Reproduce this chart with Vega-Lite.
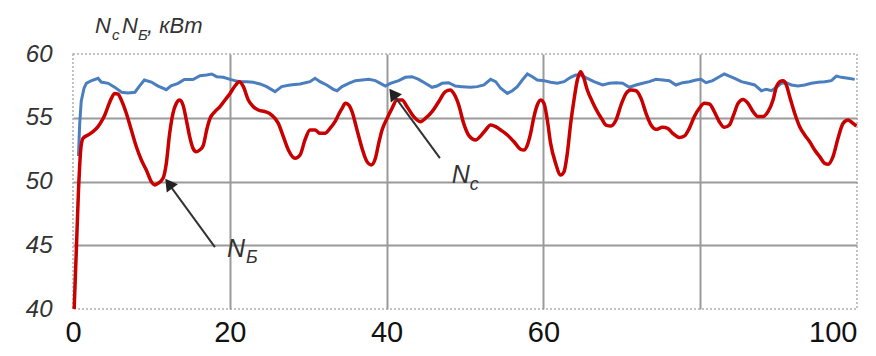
{
  "$schema": "https://vega.github.io/schema/vega-lite/v6.json",
  "autosize": {"type": "none"},
  "width": 784,
  "height": 255,
  "padding": {"left": 73, "top": 54, "right": 19, "bottom": 47},
  "background": "white",
  "config": {"view": {"stroke": "#b0b0b0", "strokeDash": [2, 2], "strokeWidth": 1.5}},
  "datasets": {
    "nc": [
      {"x":0.7,"y":52.0},{"x":0.85,"y":54.5},{"x":1.05,"y":56.3},{"x":1.4,"y":57.3},{"x":1.7,"y":57.7},{"x":2.3,"y":57.9},{"x":3.2,"y":58.1},{"x":3.6,"y":57.8},{"x":4.5,"y":57.7},{"x":5.3,"y":57.4},{"x":6.2,"y":57.0},{"x":7.0,"y":56.95},{"x":7.9,"y":57.0},{"x":8.5,"y":57.5},{"x":9.1,"y":57.96},{"x":10.0,"y":57.8},{"x":10.8,"y":57.5},{"x":11.9,"y":57.2},{"x":12.5,"y":57.5},{"x":13.4,"y":57.7},{"x":14.2,"y":58.0},{"x":15.3,"y":58.0},{"x":16.2,"y":58.3},{"x":17.05,"y":58.35},{"x":17.69,"y":58.43},{"x":18.33,"y":58.22},{"x":19.18,"y":58.17},{"x":20.03,"y":58.01},{"x":20.66,"y":57.91},{"x":21.3,"y":57.83},{"x":22.15,"y":57.83},{"x":23.0,"y":57.78},{"x":23.85,"y":57.65},{"x":24.7,"y":57.44},{"x":25.77,"y":57.05},{"x":26.62,"y":57.44},{"x":27.68,"y":57.57},{"x":28.96,"y":57.65},{"x":30.23,"y":57.83},{"x":30.87,"y":58.09},{"x":31.51,"y":57.83},{"x":32.36,"y":57.57},{"x":33.21,"y":57.23},{"x":33.68,"y":57.12},{"x":34.32,"y":57.44},{"x":35.17,"y":57.7},{"x":36.02,"y":57.91},{"x":36.87,"y":57.96},{"x":37.72,"y":58.01},{"x":38.57,"y":57.91},{"x":39.21,"y":57.7},{"x":39.84,"y":57.49},{"x":40.48,"y":57.7},{"x":41.54,"y":57.91},{"x":42.39,"y":58.17},{"x":43.24,"y":58.22},{"x":44.09,"y":58.01},{"x":44.94,"y":57.7},{"x":45.8,"y":57.39},{"x":46.43,"y":57.49},{"x":47.07,"y":57.7},{"x":47.92,"y":57.75},{"x":48.77,"y":57.49},{"x":49.62,"y":57.44},{"x":50.72,"y":57.39},{"x":51.57,"y":57.44},{"x":52.42,"y":57.57},{"x":53.27,"y":58.01},{"x":53.91,"y":57.83},{"x":54.55,"y":57.31},{"x":55.4,"y":56.91},{"x":56.04,"y":57.12},{"x":56.67,"y":57.44},{"x":57.31,"y":57.96},{"x":57.95,"y":58.43},{"x":58.59,"y":58.22},{"x":59.22,"y":57.96},{"x":60.07,"y":57.91},{"x":60.92,"y":57.78},{"x":61.77,"y":57.7},{"x":62.63,"y":57.83},{"x":63.48,"y":58.17},{"x":64.11,"y":58.35},{"x":64.75,"y":58.35},{"x":65.6,"y":58.09},{"x":66.45,"y":57.83},{"x":67.56,"y":57.57},{"x":68.41,"y":57.7},{"x":69.26,"y":57.75},{"x":70.11,"y":57.7},{"x":70.96,"y":57.39},{"x":71.81,"y":57.57},{"x":72.66,"y":57.7},{"x":73.51,"y":57.83},{"x":74.36,"y":58.01},{"x":75.21,"y":57.96},{"x":76.06,"y":57.91},{"x":76.91,"y":57.57},{"x":77.76,"y":57.75},{"x":78.61,"y":57.83},{"x":79.46,"y":57.96},{"x":80.1,"y":58.01},{"x":80.74,"y":57.75},{"x":81.59,"y":57.91},{"x":82.44,"y":58.22},{"x":83.08,"y":58.43},{"x":83.72,"y":58.27},{"x":84.4,"y":58.09},{"x":85.25,"y":57.83},{"x":86.1,"y":57.7},{"x":86.95,"y":57.57},{"x":87.8,"y":57.12},{"x":88.44,"y":57.23},{"x":89.08,"y":57.12},{"x":89.72,"y":57.39},{"x":90.35,"y":57.7},{"x":90.99,"y":57.75},{"x":91.63,"y":57.57},{"x":92.48,"y":57.49},{"x":93.33,"y":57.57},{"x":94.18,"y":57.7},{"x":95.03,"y":57.78},{"x":95.88,"y":57.83},{"x":96.73,"y":57.91},{"x":97.37,"y":58.27},{"x":98.01,"y":58.17},{"x":98.86,"y":58.09},{"x":99.71,"y":58.01}
    ],
    "nb": [
      {"x":0.15,"y":40},{"x":0.7,"y":49.3},{"x":1.0,"y":52.6},{"x":1.28,"y":53.39},{"x":1.91,"y":53.65},{"x":2.55,"y":53.91},{"x":3.19,"y":54.3},{"x":3.61,"y":54.69},{"x":4.04,"y":55.2},{"x":4.46,"y":55.87},{"x":4.89,"y":56.52},{"x":5.31,"y":56.91},{"x":5.74,"y":56.86},{"x":6.16,"y":56.39},{"x":6.8,"y":55.35},{"x":7.44,"y":54.04},{"x":8.08,"y":52.73},{"x":8.72,"y":51.69},{"x":9.35,"y":50.9},{"x":9.99,"y":49.99},{"x":10.42,"y":49.73},{"x":10.84,"y":49.86},{"x":11.48,"y":50.25},{"x":11.9,"y":51.42},{"x":12.33,"y":53.78},{"x":12.75,"y":55.35},{"x":13.18,"y":56.13},{"x":13.61,"y":56.39},{"x":14.03,"y":56.0},{"x":14.46,"y":54.82},{"x":14.88,"y":53.52},{"x":15.31,"y":52.6},{"x":15.73,"y":52.34},{"x":16.16,"y":52.47},{"x":16.63,"y":52.86},{"x":17.05,"y":54.04},{"x":17.48,"y":54.95},{"x":18.11,"y":55.48},{"x":18.75,"y":55.87},{"x":19.39,"y":56.39},{"x":20.03,"y":56.91},{"x":20.66,"y":57.49},{"x":21.22,"y":57.83},{"x":21.73,"y":57.44},{"x":22.36,"y":56.39},{"x":23.0,"y":55.87},{"x":23.64,"y":55.61},{"x":24.49,"y":55.48},{"x":25.34,"y":55.21},{"x":26.19,"y":54.56},{"x":26.83,"y":53.52},{"x":27.47,"y":52.47},{"x":28.32,"y":51.82},{"x":28.96,"y":52.08},{"x":29.59,"y":53.26},{"x":30.23,"y":54.04},{"x":30.87,"y":54.04},{"x":31.51,"y":53.78},{"x":32.14,"y":53.78},{"x":32.78,"y":54.17},{"x":33.42,"y":54.7},{"x":34.0,"y":55.4},{"x":34.32,"y":55.74},{"x":34.74,"y":56.13},{"x":35.17,"y":56.0},{"x":35.59,"y":55.48},{"x":36.23,"y":54.04},{"x":36.87,"y":52.6},{"x":37.5,"y":51.56},{"x":38.06,"y":51.3},{"x":38.57,"y":51.82},{"x":38.99,"y":52.99},{"x":39.42,"y":54.04},{"x":40.06,"y":54.95},{"x":40.69,"y":55.74},{"x":41.33,"y":56.39},{"x":41.97,"y":56.39},{"x":42.61,"y":55.87},{"x":43.46,"y":55.09},{"x":44.31,"y":54.69},{"x":44.94,"y":54.95},{"x":45.8,"y":55.48},{"x":46.65,"y":56.26},{"x":47.5,"y":57.05},{"x":48.13,"y":57.18},{"x":48.56,"y":56.91},{"x":49.2,"y":56.0},{"x":49.83,"y":54.56},{"x":50.5,"y":53.6},{"x":51.36,"y":53.26},{"x":51.99,"y":53.57},{"x":52.63,"y":54.04},{"x":53.27,"y":54.43},{"x":53.91,"y":54.3},{"x":54.55,"y":54.04},{"x":55.4,"y":53.65},{"x":56.25,"y":53.12},{"x":57.1,"y":52.52},{"x":57.52,"y":52.47},{"x":57.95,"y":52.86},{"x":58.37,"y":53.78},{"x":58.8,"y":55.09},{"x":59.22,"y":56.0},{"x":59.65,"y":56.39},{"x":60.07,"y":56.13},{"x":60.5,"y":54.82},{"x":60.92,"y":52.99},{"x":61.56,"y":51.42},{"x":62.2,"y":50.51},{"x":62.63,"y":50.77},{"x":63.05,"y":52.21},{"x":63.48,"y":54.56},{"x":63.9,"y":56.39},{"x":64.33,"y":57.96},{"x":64.75,"y":58.61},{"x":65.09,"y":58.22},{"x":65.6,"y":57.18},{"x":66.24,"y":56.26},{"x":66.88,"y":55.48},{"x":67.45,"y":54.9},{"x":67.99,"y":54.43},{"x":68.62,"y":54.35},{"x":69.26,"y":54.82},{"x":69.9,"y":56.0},{"x":70.54,"y":56.91},{"x":71.17,"y":57.18},{"x":71.81,"y":57.12},{"x":72.45,"y":56.52},{"x":73.09,"y":55.35},{"x":73.73,"y":54.43},{"x":74.36,"y":54.09},{"x":75.21,"y":54.25},{"x":75.85,"y":54.17},{"x":76.49,"y":53.78},{"x":77.34,"y":53.46},{"x":77.98,"y":53.57},{"x":78.61,"y":54.17},{"x":79.25,"y":55.09},{"x":79.89,"y":55.74},{"x":80.53,"y":56.13},{"x":81.17,"y":56.08},{"x":81.8,"y":55.48},{"x":82.44,"y":54.69},{"x":83.08,"y":54.25},{"x":83.72,"y":54.43},{"x":84.25,"y":55.2},{"x":84.83,"y":56.13},{"x":85.46,"y":56.44},{"x":86.1,"y":56.13},{"x":86.74,"y":55.48},{"x":87.38,"y":55.09},{"x":88.01,"y":55.09},{"x":88.65,"y":55.48},{"x":89.29,"y":56.39},{"x":89.72,"y":57.44},{"x":90.14,"y":57.83},{"x":90.57,"y":57.91},{"x":90.99,"y":57.57},{"x":91.42,"y":56.65},{"x":92.05,"y":55.35},{"x":92.69,"y":54.3},{"x":93.33,"y":53.65},{"x":93.97,"y":53.12},{"x":94.6,"y":52.47},{"x":95.24,"y":51.95},{"x":95.88,"y":51.42},{"x":96.31,"y":51.35},{"x":96.94,"y":51.95},{"x":97.58,"y":53.39},{"x":98.22,"y":54.56},{"x":98.86,"y":54.82},{"x":99.49,"y":54.56},{"x":99.92,"y":54.35}
    ],
    "arrows": [
      {"x": 46.8, "y": 51.84, "x2": 41.0, "y2": 56.7},
      {"x": 18.1, "y": 44.86, "x2": 12.4, "y2": 49.65}
    ],
    "heads": [
      {"x": 40.8, "y": 56.9},
      {"x": 12.22, "y": 49.84}
    ],
    "big": [
      {"x": 48.3, "y": 49.88, "t": "N"},
      {"x": 19.64, "y": 44.08, "t": "N"}
    ],
    "small": [
      {"x": 50.6, "y": 49.33, "t": "с"},
      {"x": 22.07, "y": 43.6, "t": "Б"}
    ],
    "ttl": [
      {"x": 2.8, "y": 61.65, "t": "N"},
      {"x": 6.25, "y": 61.65, "t": "N"},
      {"x": 9.44, "y": 61.65, "t": ", кВт"}
    ],
    "tsub": [
      {"x": 4.97, "y": 61.1, "t": "с"},
      {"x": 8.29, "y": 61.1, "t": "Б"}
    ]
  },
  "encoding": {
    "x": {
      "field": "x", "type": "quantitative",
      "scale": {"domain": [0, 100], "nice": false, "zero": false},
      "axis": {
        "title": null, "values": [0, 20, 40, 60, 80, 100],
        "domain": false, "ticks": false,
        "grid": true, "gridWidth": 2,
        "gridColor": {"condition": {"test": "datum.value == 0 || datum.value == 100", "value": "transparent"}, "value": "#9a9a9a"},
        "labelExpr": "datum.value == 80 ? '' : datum.label",
        "labelAlign": {"condition": {"test": "datum.value == 100", "value": "right"}, "value": "center"},
        "labelFont": "Liberation Sans",
        "labelFontSize": 29, "labelColor": "#111", "labelPadding": 9,
        "labelBaseline": "top", "labelFlush": false, "labelOverlap": false
      }
    },
    "y": {
      "field": "y", "type": "quantitative",
      "scale": {"domain": [40, 60], "nice": false, "zero": false},
      "axis": {
        "title": null, "values": [40, 45, 50, 55, 60],
        "domain": false, "ticks": false,
        "grid": true, "gridWidth": 2,
        "gridColor": {"condition": {"test": "datum.value == 40 || datum.value == 60", "value": "transparent"}, "value": "#9a9a9a"},
        "labelFont": "Liberation Sans", "labelFontStyle": "italic",
        "labelFontSize": 24, "labelColor": "#333", "labelPadding": 21,
        "labelBaseline": "middle", "labelOverlap": false
      }
    }
  },
  "layer": [
    {"data": {"name": "nc"}, "mark": {"type": "line", "color": "#4a7ebf", "strokeWidth": 3, "interpolate": "linear"}},
    {"data": {"name": "nb"}, "mark": {"type": "line", "color": "#c80000", "strokeWidth": 3.5, "interpolate": "monotone"}},
    {"data": {"name": "arrows"}, "mark": {"type": "rule", "color": "#333", "strokeWidth": 2},
     "encoding": {"x2": {"field": "x2"}, "y2": {"field": "y2"}}},
    {"data": {"name": "heads"}, "mark": {"type": "point", "shape": "triangle-up", "filled": true, "color": "#222", "opacity": 1, "size": 190, "angle": 324}},
    {"data": {"name": "big"}, "mark": {"type": "text", "align": "left", "baseline": "alphabetic", "font": "Liberation Sans", "fontStyle": "italic", "fontSize": 25, "color": "#333"},
     "encoding": {"text": {"field": "t"}}},
    {"data": {"name": "small"}, "mark": {"type": "text", "align": "left", "baseline": "alphabetic", "font": "Liberation Sans", "fontStyle": "italic", "fontSize": 18, "color": "#333"},
     "encoding": {"text": {"field": "t"}}},
    {"data": {"name": "ttl"}, "mark": {"type": "text", "align": "left", "baseline": "alphabetic", "font": "Liberation Sans", "fontStyle": "italic", "fontSize": 22, "color": "#333"},
     "encoding": {"text": {"field": "t"}}},
    {"data": {"name": "tsub"}, "mark": {"type": "text", "align": "left", "baseline": "alphabetic", "font": "Liberation Sans", "fontStyle": "italic", "fontSize": 15, "color": "#333"},
     "encoding": {"text": {"field": "t"}}}
  ]
}
